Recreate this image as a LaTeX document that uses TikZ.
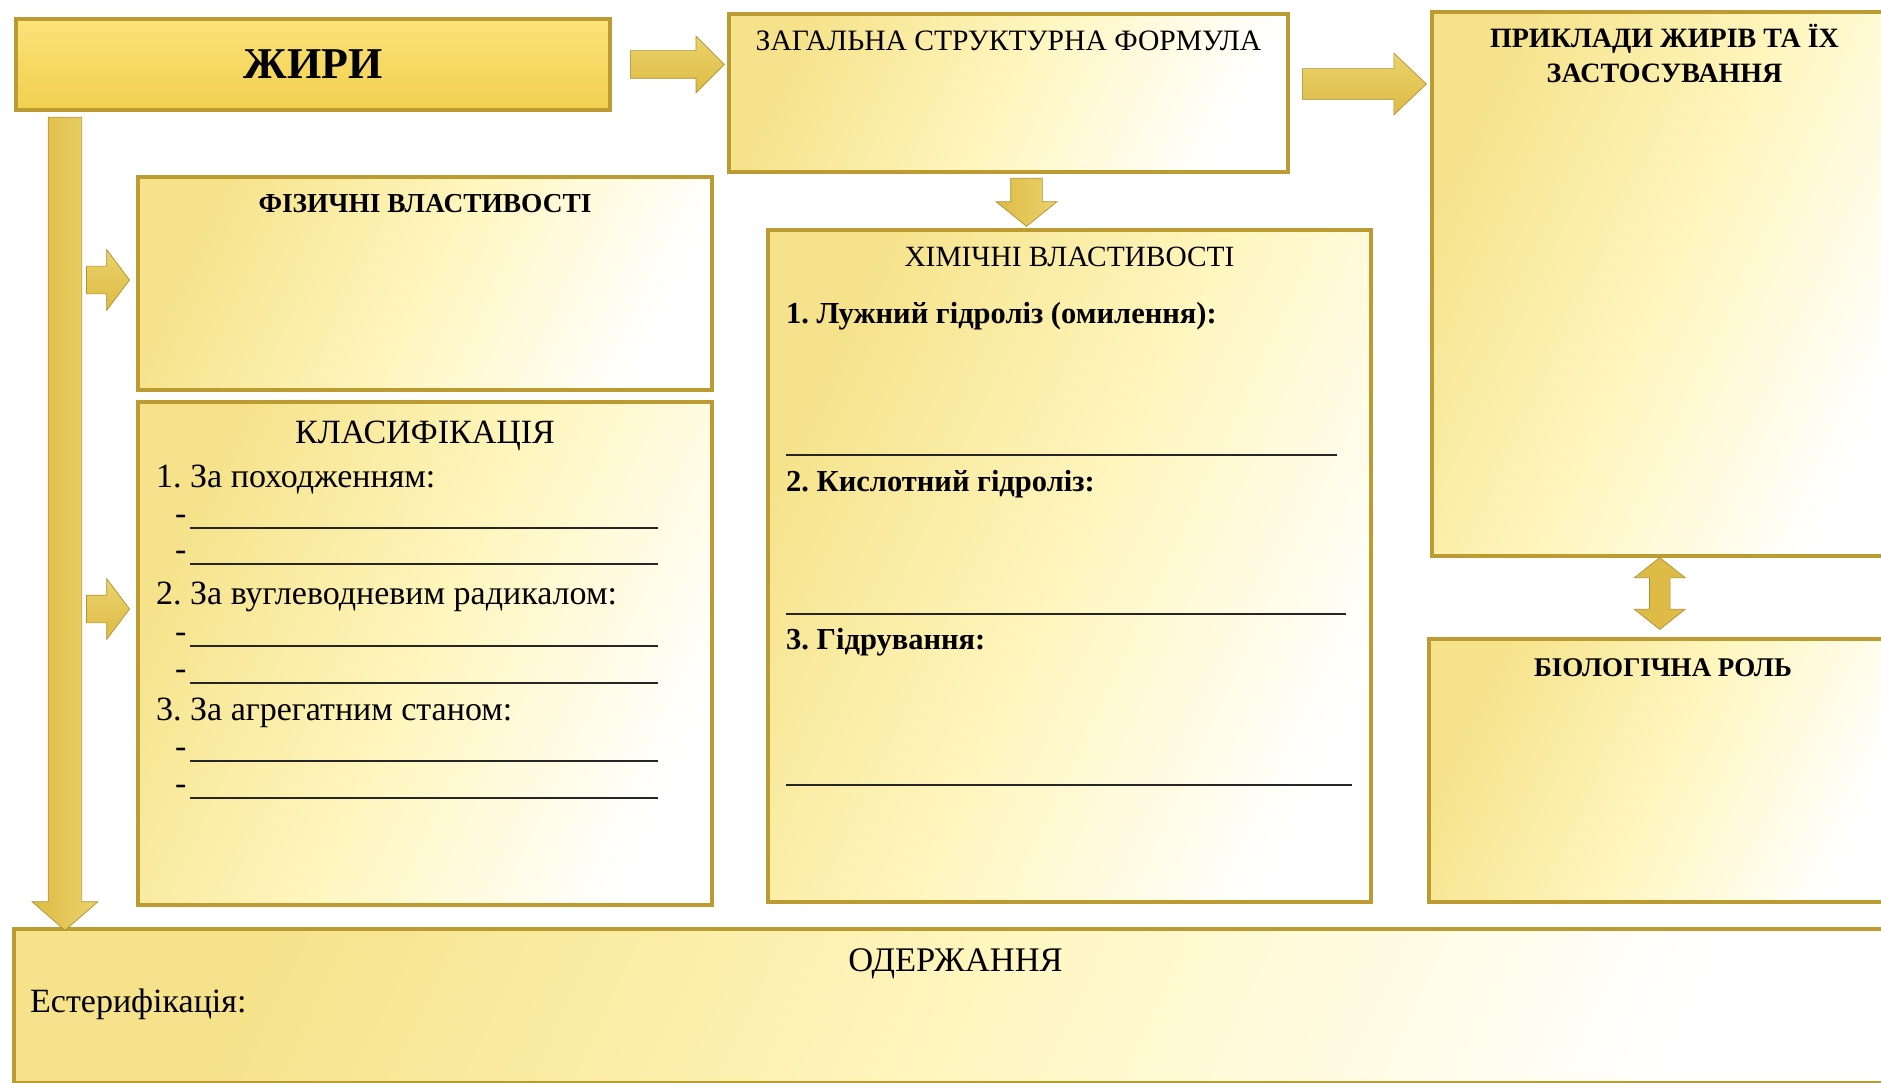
\documentclass[tikz,border=0pt]{standalone}
\usepackage{fontspec}
\setmainfont{Liberation Serif}
\usetikzlibrary{positioning}
\usetikzlibrary{calc}
\usetikzlibrary{shapes.arrows}
\usetikzlibrary{shadows}

\definecolor{goldedge}{HTML}{BC9B32}
\definecolor{goldfill}{HTML}{F5E28A}
\definecolor{goldpale}{HTML}{FFF6BE}
\definecolor{goldtop}{HTML}{FBE27A}
\definecolor{goldbot}{HTML}{F1D04E}
\definecolor{arrowlight}{HTML}{FFF5A2}
\definecolor{arrowdark}{HTML}{DDBB46}
\definecolor{arrowedge}{HTML}{B09030}

\newcommand{\fsz}[1]{\fontsize{#1}{#1}\selectfont}

\begin{document}
\frenchspacing
\begin{tikzpicture}[x=1pt,y=-1pt,
  panel/.style={draw=goldedge, line width=4pt, inner sep=0pt, anchor=north west,
    drop shadow={shadow xshift=2pt, shadow yshift=-2pt, opacity=0.5, fill=black!55},
    left color=goldfill, right color=white, middle color=goldpale, shading angle=65},
  titlepanel/.style={panel, top color=goldtop, bottom color=goldbot},
  head/.style={inner sep=0pt, font=\fsz{29}},
  item/.style={inner sep=0pt, anchor=base west, font=\fsz{34}},
  rule/.style={line width=1.3pt, black!85},
  goldarrow/.style={draw=arrowedge, line width=0.7pt, inner xsep=0pt,
    top color=arrowdark!60!arrowlight, middle color=arrowlight, bottom color=arrowdark},
  rightarrow/.style={goldarrow, single arrow},
  downarrow/.style={goldarrow, single arrow, rotate=-90,
    left color=arrowdark, middle color=arrowlight, right color=arrowdark!60!arrowlight}
]
\useasboundingbox (0,0) rectangle (1881,1083);
\clip (0,0) rectangle (1881,1083);

% boxes
\node[titlepanel, minimum width=594pt, minimum height=91pt] (zhyry) at (14,17) {};
\node[panel, minimum width=559pt, minimum height=158pt] (formula) at (727,12) {};
\node[panel, minimum width=465pt, minimum height=544pt] (examples) at (1430,10) {};
\node[panel, minimum width=574pt, minimum height=213pt] (physical) at (136,175) {};
\node[panel, minimum width=574pt, minimum height=503pt] (classif) at (136,400) {};
\node[panel, minimum width=603pt, minimum height=672pt] (chem) at (766,228) {};
\node[panel, minimum width=468pt, minimum height=263pt] (bio) at (1427,637) {};
\node[panel, minimum width=1883pt, minimum height=154pt] (obtain) at (12,927) {};

% headings
\node[inner sep=0pt, font=\bfseries\fsz{44}] (zhyrytxt) at (zhyry) {ЖИРИ};
\node[head, font=\fsz{29.6}, below=19pt of formula.north] (formulatxt) {ЗАГАЛЬНА СТРУКТУРНА ФОРМУЛА};
\node[head, font=\bfseries\fontsize{28}{35}\selectfont, align=center, below=14pt of examples.north] (examplestxt)
  {ПРИКЛАДИ ЖИРІВ ТА ЇХ\\ЗАСТОСУВАННЯ};
\node[head, font=\bfseries\fsz{27.4}, below=19pt of physical.north] (physicaltxt) {ФІЗИЧНІ ВЛАСТИВОСТІ};
\node[head, font=\fsz{29.4}, below=19pt of chem.north] (chemtxt) {ХІМІЧНІ ВЛАСТИВОСТІ};
\node[head, font=\fsz{34}, below=21pt of classif.north] (classiftxt) {КЛАСИФІКАЦІЯ};
\node[head, font=\bfseries\fsz{27}, below=21pt of bio.north] (biotxt) {БІОЛОГІЧНА РОЛЬ};
\node[head, font=\fsz{34.5}, below=21pt of obtain.north] (obtaintxt) {ОДЕРЖАННЯ};

% classification
\node[item] (origin) at ($(classif.north west)+(20,87)$) {1. За походженням:};
\node[item] (radical) at ($(classif.north west)+(20,204)$) {2. За вуглеводневим радикалом:};
\node[item] (state) at ($(classif.north west)+(20,320)$) {3. За агрегатним станом:};
\foreach \y in {128,164,246,283,361,398}{
  \node[item] at ($(classif.north west)+(39,\y-4)$) {-};
  \draw[rule] ($(classif.north west)+(54,\y)$) -- +(468,0);
}

% chemical properties
\node[item, font=\bfseries\fsz{30.5}] (alkali) at ($(chem.north west)+(20,95)$) {1. Лужний гідроліз (омилення):};
\node[item, font=\bfseries\fsz{30.5}] (acid) at ($(chem.north west)+(20,263)$) {2. Кислотний гідроліз:};
\node[item, font=\bfseries\fsz{30.5}] (hydro) at ($(chem.north west)+(20,421)$) {3. Гідрування:};
\foreach \y/\l in {227/551,386/560,557/566}
  \draw[rule] ($(chem.north west)+(20,\y)$) -- +(\l,0);

% obtaining
\node[item] (ester) at ($(obtain.north west)+(18,85)$) {Естерифікація:};

% arrows
\node[rightarrow, anchor=tail, minimum height=94pt, inner ysep=13.5pt,
  single arrow head extend=14.5pt, single arrow tip angle=90] (toformula) at ($(zhyry.east)+(18,0)$) {};
\node[rightarrow, anchor=tail, minimum height=124pt, inner ysep=15pt,
  single arrow head extend=15.5pt, single arrow tip angle=87] (toexamples) at ($(formula.east)+(12,-9)$) {};
\node[downarrow, anchor=tail, minimum height=48pt, inner ysep=15.5pt,
  single arrow head extend=14.5pt, single arrow tip angle=102] (tochem) at ($(formula.south)+(18,4)$) {};
\node[goldarrow, double arrow, rotate=90, minimum height=72pt, inner ysep=10pt,
  left color=arrowdark, middle color=arrowlight, right color=arrowdark,
  double arrow head extend=15pt, double arrow tip angle=103] (tobio) at ($(examples.south)!0.5!(bio.north)+(-4,-4)$) {};
\node[downarrow, anchor=tail, minimum height=813pt, inner ysep=16.5pt,
  single arrow head extend=16pt, single arrow tip angle=98] (toobtain) at ($(zhyry.south west)+(51,5)$) {};
\node[rightarrow, anchor=tip, minimum height=43pt, inner ysep=13.5pt,
  single arrow head extend=16.5pt, single arrow tip angle=106] (tophysical) at ($(physical.west)+(-6,-3.5)$) {};
\node[rightarrow, anchor=tip, minimum height=43pt, inner ysep=13.5pt,
  single arrow head extend=16.5pt, single arrow tip angle=106] (toclassif) at ($(classif.west)+(-6,-44.5)$) {};
\end{tikzpicture}
\end{document}
